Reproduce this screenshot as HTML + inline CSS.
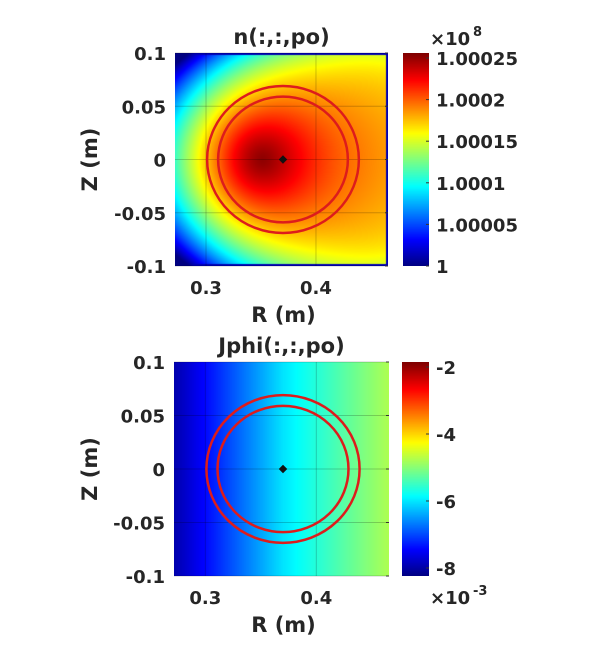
<!DOCTYPE html>
<html><head><meta charset="utf-8"><style>
body{margin:0;background:#fff;width:609px;height:654px;position:relative;overflow:hidden;font-family:"DejaVu Sans",sans-serif}
canvas{position:absolute}
svg{position:absolute;left:0;top:0}
text{font-family:"DejaVu Sans","Liberation Sans",sans-serif;font-weight:bold;fill:#262626}
</style></head><body>
<canvas id="c1" style="left:175px;top:53px" width="213" height="213"></canvas>
<canvas id="c2" style="left:174px;top:362px" width="215" height="214"></canvas>
<canvas id="cb1" style="left:403px;top:53px" width="26" height="213"></canvas>
<canvas id="cb2" style="left:402px;top:362px" width="27" height="214"></canvas>
<svg id="s" width="609" height="654"></svg>
<script>
const rTicks=[0.3,0.4];
const zTicks=[0.1,0.05,0,-0.05,-0.1];
const zTickLabels=["0.1","0.05","0","-0.05","-0.1"];
const cb1Ticks=[1,1.00005,1.0001,1.00015,1.0002,1.00025];
const cb1Labels=["1","1.00005","1.0001","1.00015","1.0002","1.00025"];
const cb2Ticks=[-2,-4,-6,-8];
const cb2Labels=["-2","-4","-6","-8"];
const circleRadii=[0.069,0.059];
const axisCenter=[0.37,0];
const jphiR=[0.272,0.37,0.465];
const jphiVals=[-7.95,-6.0,-4.75];
const rRange=[0.2718,0.4655];

function jet(v){v=Math.max(0,Math.min(1,v));
 const f=t=>Math.max(0,Math.min(1,1.5-Math.abs(4*v-t)));
 return [f(3)*255,f(2)*255,f(1)*255];}
const NS="http://www.w3.org/2000/svg",S=document.getElementById('s');
function el(t,a,txt){const e=document.createElementNS(NS,t);for(const k in a)e.setAttribute(k,a[k]);if(txt!==undefined)e.textContent=txt;S.appendChild(e);return e;}

(function(){const c=document.getElementById('c1'),x=c.getContext('2d'),W=213,H=213,im=x.createImageData(W,H);
for(let j=0;j<H;j++)for(let i=0;i<W;i++){const u=i/W,w=(j-106)/106;
 let vf=0.68-0.5*(1-u)*(1-u)-0.06*w*w-0.3*(1-u)*(1-u)*w*w-0.06*Math.pow(Math.abs(w),6);
 const dx=i-87,dy=j-106;const d=Math.sqrt(dx*dx+dy*dy);const g=Math.exp(-Math.pow(d/80,1.5));
 let v=vf+(1-vf)*g*0.97;
 if(i>=W-2||j<=1||j>=H-2) v=Math.min(v,0.05);
 const col=jet(v),k=(j*W+i)*4;im.data[k]=col[0];im.data[k+1]=col[1];im.data[k+2]=col[2];im.data[k+3]=255;}
x.putImageData(im,0,0);})();
function interp(R){if(R<=jphiR[1])return jphiVals[0]+(jphiVals[1]-jphiVals[0])*(R-jphiR[0])/(jphiR[1]-jphiR[0]);
 return jphiVals[1]+(jphiVals[2]-jphiVals[1])*(R-jphiR[1])/(jphiR[2]-jphiR[1]);}
(function(){const c=document.getElementById('c2'),x=c.getContext('2d'),W=215;
for(let i=0;i<W;i++){const R=rRange[0]+(rRange[1]-rRange[0])*i/W;const val=interp(R);
 const v=(val+8.24)/(8.24-1.85);const col=jet(v);x.fillStyle=`rgb(${col[0]|0},${col[1]|0},${col[2]|0})`;x.fillRect(i,0,1,214);}})();
['cb1','cb2'].forEach(id=>{const c=document.getElementById(id),x=c.getContext('2d');for(let j=0;j<c.height;j++){const col=jet(1-j/c.height);x.fillStyle=`rgb(${col[0]|0},${col[1]|0},${col[2]|0})`;x.fillRect(0,j,c.width,1);}});

function panel(L,T,W,H,title,name){
 const xs=R=>L+(R-rRange[0])/(rRange[1]-rRange[0])*W;
 const ys=Z=>T+(0.1-Z)/0.2*H;
 rTicks.forEach(r=>{const g=el('line',{x1:xs(r),x2:xs(r),y1:T,y2:T+H,stroke:'#000','stroke-opacity':0.2,'stroke-width':1});});
 zTicks.forEach(z=>{const g=el('line',{x1:L,x2:L+W,y1:ys(z),y2:ys(z),stroke:'#000','stroke-opacity':0.2,'stroke-width':1});});
 rTicks.forEach(r=>{const t=el('text',{x:xs(r),y:T+H+28,'text-anchor':'middle','font-size':18},r.toFixed(1));});
 zTicks.forEach((z,i)=>{const t=el('text',{x:L-9,y:ys(z)+7,'text-anchor':'end','font-size':18},zTickLabels[i]);
  el('line',{x1:L+W-3,x2:L+W,y1:ys(z),y2:ys(z),stroke:'#333'});});
 circleRadii.forEach(r=>{const c=el('ellipse',{cx:xs(axisCenter[0]),cy:ys(axisCenter[1]),rx:r/(rRange[1]-rRange[0])*W,ry:r/0.2*H,fill:'none',stroke:'#dd1c1c','stroke-width':2.5});});
 const m=el('rect',{x:xs(axisCenter[0])-3,y:ys(0)-3,width:6,height:6,fill:'#111',transform:`rotate(45 ${xs(axisCenter[0])} ${ys(0)})`});
 const tt=el('text',{x:L+W/2,y:T-9,'text-anchor':'middle','font-size':21,fill:'#000'},title);
 const xl=el('text',{x:L+W/2+2,y:T+H+56,'text-anchor':'middle','font-size':21},'R (m)');
 const yl=el('text',{x:0,y:0,'text-anchor':'middle','font-size':21,transform:`translate(97 ${T+H/2}) rotate(-90)`},'Z (m)');
}
panel(175,53,213,213,'n(:,:,po)','density');
panel(174,362,215,214,'Jphi(:,:,po)','jphi');
cb1Ticks.forEach((v,i)=>{const y=266-(v-1)/0.00025*208;const t=el('text',{x:436,y:y+7,'font-size':18},cb1Labels[i]);
 el('line',{x1:426,x2:429,y1:y,y2:y,stroke:'#333'});});
cb2Ticks.forEach((v,i)=>{const y=576-(v+8.24)/(8.24-1.85)*214;const t=el('text',{x:436,y:y+7,'font-size':18},cb2Labels[i]);
 el('line',{x1:426,x2:429,y1:y,y2:y,stroke:'#333'});});
const e1=el('text',{x:430,y:45,'font-size':18},'×10');
el('text',{x:473,y:36,'font-size':13},'8');
const e2=el('text',{x:430,y:604,'font-size':18},'×10');
el('text',{x:473,y:595,'font-size':13},'-3');
</script>
</body></html>
